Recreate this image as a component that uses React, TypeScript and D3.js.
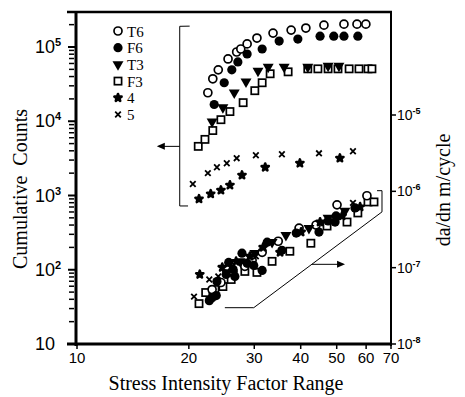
import * as d3 from 'd3'

const W = 465
const H = 397

type Pt = [number, number]

// upper group: cumulative AE counts vs stress intensity factor range (left axis)
const t6Counts: Pt[] = [
  [22.5, 24200], [23.2, 37300], [24.0, 49200], [25.5, 69000], [26.9, 85700], [27.6, 94000],
  [28.7, 110000], [30.5, 132000], [33.7, 154000], [37.7, 169000], [41.3, 180000],
  [46.2, 197000], [52.3, 203000], [56.7, 203000], [59.9, 203000],
]
const f6Counts: Pt[] = [
  [23.4, 16800], [24.9, 33000], [26.1, 49200], [27.1, 63000], [28.7, 80500], [31.5, 94000],
  [35.0, 120000], [39.3, 128000], [45.1, 140000], [49.1, 140000], [52.3, 140000], [57.0, 140000],
]
const t3Counts: Pt[] = [
  [23.1, 9900], [24.7, 15300], [26.5, 24200], [28.5, 34000], [30.7, 47700], [32.7, 54000],
  [36.1, 54000], [41.8, 54000], [47.4, 55700], [50.7, 55700],
]
const f3Counts: Pt[] = [
  [21.2, 4590], [22.1, 5700], [23.2, 7500], [24.4, 10500], [25.8, 13500], [28.0, 17800],
  [30.1, 25800], [31.5, 33000], [33.1, 43600], [37.0, 46300], [41.8, 50800], [44.5, 50800],
  [47.4, 50800], [50.4, 50800], [54.0, 50800], [57.4, 50800], [60.7, 50800], [62.2, 50800],
]
const s4Counts: Pt[] = [
  [21.3, 898], [22.9, 1050], [24.4, 1180], [25.8, 1380], [27.8, 1880], [32.1, 2400],
  [39.8, 2720], [51.0, 3180],
]
const s5Counts: Pt[] = [
  [20.5, 1430], [22.5, 2000], [23.8, 2400], [25.3, 2720], [26.9, 3180], [30.3, 3480],
  [35.6, 3590], [44.8, 3700], [55.3, 3940],
]

// lower group: crack growth rate da/dn (right axis)
const t6Rate: Pt[] = [
  [23.1, 5.17e-8], [24.4, 6.39e-8], [26.3, 8.93e-8], [28.3, 1.04e-7], [29.6, 1.25e-7],
  [31.5, 1.59e-7], [34.8, 2.22e-7], [39.6, 3.3e-7], [44.0, 3.62e-7], [50.1, 6.65e-7],
  [60.3, 8.75e-7],
]
const f6Rate: Pt[] = [
  [22.7, 3.7e-8], [23.1, 4.05e-8], [23.7, 4.31e-8], [23.8, 6.59e-8], [25.2, 8.15e-8],
  [25.6, 1.17e-7], [26.3, 9.5e-8], [26.6, 7.67e-8], [27.8, 1.55e-7], [28.7, 1.14e-7],
  [29.9, 1.07e-7], [31.5, 9.2e-8], [32.5, 2.16e-7], [35.6, 1.69e-7], [38.9, 2.84e-7],
  [44.8, 2.93e-7], [47.4, 4.09e-7], [49.5, 3.96e-7], [49.8, 4.76e-7], [56.0, 6.07e-7],
]
const t3Rate: Pt[] = [
  [25.2, 8.67e-8], [27.5, 1.21e-7], [30.1, 1.55e-7], [33.5, 2.16e-7], [36.5, 2.67e-7],
  [42.1, 3.3e-7], [47.4, 4.48e-7], [52.6, 5.55e-7],
]
const f3Rate: Pt[] = [
  [21.3, 3.38e-8], [22.2, 4.72e-8], [23.5, 5.17e-8], [24.7, 5.66e-8], [26.0, 7.0e-8],
  [28.3, 8.93e-8], [30.5, 8.67e-8], [33.5, 1.21e-7], [37.4, 1.64e-7], [42.6, 2.09e-7],
  [47.1, 3.51e-7], [53.3, 3.96e-7], [57.0, 5.21e-7], [60.7, 7.26e-7], [63.0, 7.26e-7],
]
const s4Rate: Pt[] = [
  [21.4, 8.15e-8], [24.6, 1.01e-7], [26.8, 1.21e-7], [29.2, 1.41e-7], [31.7, 1.85e-7],
  [35.2, 1.59e-7], [40.1, 2.93e-7], [45.1, 3.96e-7], [51.7, 4.76e-7], [57.8, 6.26e-7],
]
const s5Rate: Pt[] = [
  [20.65, 4.18e-8], [22.7, 7.0e-8], [24.0, 7.67e-8], [26.0, 1.01e-7], [30.3, 1.41e-7],
  [55.3, 7.07e-7],
]

const legendNames = ['T6', 'F6', 'T3', 'F3', '4', '5']
const xTicks = [10, 20, 30, 40, 50, 60, 70]
const leftExps = [1, 2, 3, 4, 5]
const rightExps = [-5, -6, -7, -8]

const serif = '"Liberation Serif", "Times New Roman", serif'
const sans = '"Liberation Sans", Arial, sans-serif'

const x = d3.scaleLog().domain([10, 70]).range([77, 391])
const yL = d3.scaleLog().domain([10, 1e5]).range([344, 47])
const yR = d3.scaleLog().domain([1e-8, 1e-5]).range([344, 115])

const tri = d3.symbol(d3.symbolTriangle, 52)()
const star = d3.symbol(d3.symbolStar, 16)()

function Marker({ kind, cx, cy }: { kind: string; cx: number; cy: number }) {
  const t = `translate(${cx},${cy})`
  if (kind === 'T6') return <circle cx={cx} cy={cy} r={4} fill="#fff" stroke="#000" strokeWidth={1.7} />
  if (kind === 'F6') return <circle cx={cx} cy={cy} r={4.6} fill="#000" />
  if (kind === 'T3') return <path d={tri as string} transform={`${t} rotate(180)`} fill="#000" />
  if (kind === 'F3')
    return <rect x={cx - 3.6} y={cy - 3.6} width={7.2} height={7.2} fill="#fff" stroke="#000" strokeWidth={1.7} />
  if (kind === '4')
    return (
      <path d={star as string} transform={t} fill="#000" stroke="#000" strokeWidth={2.6} strokeLinejoin="round" />
    )
  return (
    <path d="M-2.8,-2.8L2.8,2.8M-2.8,2.8L2.8,-2.8" transform={t} stroke="#000" strokeWidth={1.8} fill="none" />
  )
}

const upper: [string, Pt[]][] = [
  ['F3', f3Counts], ['T6', t6Counts], ['T3', t3Counts], ['F6', f6Counts], ['4', s4Counts], ['5', s5Counts],
]
const lower: [string, Pt[]][] = [
  ['F3', f3Rate], ['T6', t6Rate], ['T3', t3Rate], ['F6', f6Rate], ['4', s4Rate], ['5', s5Rate],
]

export default function App() {
  const leftMinor: number[] = []
  for (let e = 1; e <= 5; e++) for (let k = 2; k <= 9; k++) {
    const v = k * 10 ** e
    if (yL(v) >= 12) leftMinor.push(v)
  }
  const line = d3.line<Pt>()
  const bracketL: Pt[] = [[20.1, 191000], [18.9, 190000], [18.9, 723], [19.9, 723]]
  const arrowL: Pt[] = [[18.9, 4590], [16.6, 4590]]
  const bracketR: Pt[] = [[25.0, 2.99e-8], [29.9, 2.99e-8], [66.2, 5.38e-7], [66.2, 1.02e-6], [64.2, 1.02e-6]]
  const arrowR: Pt[] = [[42.9, 1.106e-7], [52.0, 1.106e-7]]
  const pxL = (p: Pt): Pt => [x(p[0]), yL(p[1])]
  const pxR = (p: Pt): Pt => [x(p[0]), yR(p[1])]
  const aL = pxL(arrowL[1])
  const aR = pxR(arrowR[1])
  const rowH = 16.7

  return (
    <svg width={W} height={H} style={{ position: 'absolute', left: 0, top: 0, background: '#fff' }}>
      {/* frame */}
      <line x1={67} x2={392} y1={12} y2={12} stroke="#000" strokeWidth={2.5} />
      <line x1={76} x2={76} y1={11} y2={346} stroke="#000" strokeWidth={3} />
      <line x1={67} x2={392} y1={344} y2={344} stroke="#000" strokeWidth={3} />
      <line x1={391} x2={391} y1={11} y2={346} stroke="#000" strokeWidth={2} />

      {/* left axis */}
      {leftMinor.map((v) => (
        <line key={v} x1={69} x2={74} y1={yL(v)} y2={yL(v)} stroke="#000" strokeWidth={1.5} />
      ))}
      {leftExps.map((e) => (
        <g key={e}>
          <line x1={68} x2={75} y1={yL(10 ** e)} y2={yL(10 ** e)} stroke="#000" strokeWidth={2} />
          <text x={35} y={yL(10 ** e) + 6} fontFamily={sans} fontSize={18}>
            10
            {e > 1 && (
              <tspan dy={-7} fontSize={11} fontWeight="bold">
                {e}
              </tspan>
            )}
          </text>
        </g>
      ))}

      {/* right axis */}
      {rightExps.map((e) => (
        <g key={e}>
          <line x1={391} x2={396} y1={yR(10 ** e)} y2={yR(10 ** e)} stroke="#000" strokeWidth={1.5} />
          <text x={397} y={yR(10 ** e) + 5} fontFamily={sans} fontSize={14}>
            10
            <tspan dy={-6} fontSize={9} fontWeight="bold">
              {'-' + -e}
            </tspan>
          </text>
        </g>
      ))}

      {/* x axis */}
      {xTicks.map((t) => (
        <g key={t}>
          <line x1={x(t)} x2={x(t)} y1={344} y2={349} stroke="#000" strokeWidth={1.5} />
          <text x={x(t)} y={363} textAnchor="middle" fontFamily={sans} fontSize={15}>
            {t}
          </text>
        </g>
      ))}

      {/* titles */}
      <text
        transform="translate(27,189) rotate(-90)"
        textAnchor="middle"
        fontFamily={serif}
        fontSize={20}
        style={{ whiteSpace: 'pre' }}
      >
        {'Cumulative  Counts'}
      </text>
      <text x={226} y={390} textAnchor="middle" fontFamily={serif} fontSize={20}>
        Stress Intensity Factor Range
      </text>
      <text transform="translate(450,190) rotate(-90)" textAnchor="middle" fontFamily={serif} fontSize={20}>
        da/dn m/cycle
      </text>

      {/* annotations */}
      <path d={line(bracketL.map(pxL)) ?? ''} fill="none" stroke="#000" strokeWidth={1} />
      <path d={line(arrowL.map(pxL)) ?? ''} fill="none" stroke="#000" strokeWidth={1} />
      <path d={`M${aL[0] - 2},${aL[1]}l8,-3.5v7z`} fill="#000" />
      <path d={line(bracketR.map(pxR)) ?? ''} fill="none" stroke="#000" strokeWidth={1} />
      <path d={line(arrowR.map(pxR)) ?? ''} fill="none" stroke="#000" strokeWidth={1} />
      <path d={`M${aR[0] + 2},${aR[1]}l-8,-3.5v7z`} fill="#000" />

      {/* data */}
      {upper.map(([k, pts]) =>
        pts.map((p, i) => <Marker key={k + 'u' + i} kind={k} cx={x(p[0])} cy={yL(p[1])} />),
      )}
      {lower.map(([k, pts]) =>
        pts.map((p, i) => <Marker key={k + 'l' + i} kind={k} cx={x(p[0])} cy={yR(p[1])} />),
      )}

      {/* legend */}
      {legendNames.map((n, i) => (
        <g key={n}>
          <Marker kind={n} cx={118} cy={31 + i * rowH} />
          <text x={127} y={31 + i * rowH + 5.5} fontFamily={serif} fontSize={15}>
            {n}
          </text>
        </g>
      ))}
    </svg>
  )
}
